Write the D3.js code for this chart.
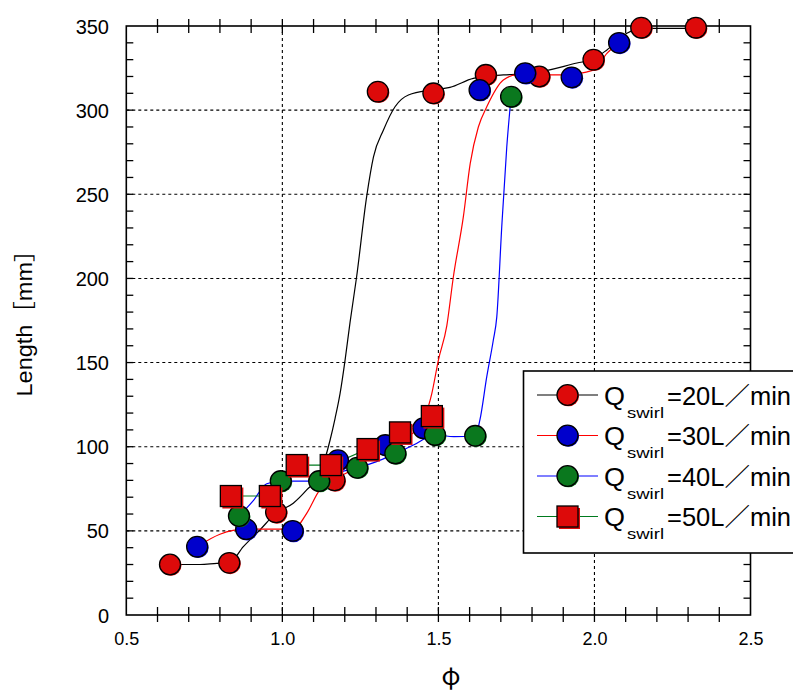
<!DOCTYPE html>
<html>
<head>
<meta charset="utf-8">
<script src="https://cdn.jsdelivr.net/npm/d3@7/dist/d3.min.js"></script>
<style>
  html, body { margin: 0; padding: 0; background: #fff; }
  svg { display: block; }
</style>
</head>
<body>
<svg id="chart" width="793" height="693"></svg>
<script>
// ---------- data ----------
const xTickValues = [0.5, 1.0, 1.5, 2.0, 2.5];
const xTickLabels = ["0.5", "1.0", "1.5", "2.0", "2.5"];
const yTickValues = [0, 50, 100, 150, 200, 250, 300, 350];
const yTickLabels = ["0", "50", "100", "150", "200", "250", "300", "350"];

const seriesNames = ["=20L／min", "=30L／min", "=40L／min", "=50L／min"];

// markers
const q20X = [0.64, 0.83, 0.98, 1.167, 1.306, 1.484, 1.652, 1.823, 1.997, 2.15, 2.325];
const q20Y = [30, 31, 61, 80, 311, 310, 321, 320, 330, 349, 349];
const q30X = [0.727, 0.884, 1.033, 1.178, 1.33, 1.452, 1.632, 1.778, 1.927, 2.079];
const q30Y = [40.6, 51, 50, 92, 101, 111, 312, 322, 319.5, 340];
const q40X = [0.861, 0.995, 1.118, 1.24, 1.362, 1.489, 1.618, 1.733];
const q40Y = [58.8, 79.6, 79.6, 87.5, 96, 107, 106.5, 308];
const q50X = [0.835, 0.96, 1.046, 1.155, 1.273, 1.377, 1.479];
const q50Y = [70.7, 70.7, 89.1, 89.1, 98.6, 108.5, 118.2];

// smoothed fit curves (traced)
const c20X = [0.64, 0.736, 0.79, 0.83, 0.875, 0.928, 0.979, 1.035, 1.078, 1.121, 1.153, 1.169, 1.185, 1.201, 1.217, 1.238, 1.27, 1.292, 1.324, 1.361, 1.404, 1.484, 1.537, 1.612, 1.708, 1.794, 1.944, 1.997, 2.04, 2.104, 2.15, 2.325];
const c20Y = [30, 30, 30.7, 31, 40.6, 50.5, 60.4, 66.4, 74.3, 84.2, 104, 116.9, 131.7, 151.5, 174, 201, 248.5, 272.3, 288.2, 302, 309, 312, 313.5, 318.9, 320.9, 321.8, 328, 330.4, 335.8, 345.7, 348.6, 348.6];
const c30X = [0.727, 0.8, 0.884, 1.0, 1.033, 1.078, 1.12, 1.163, 1.24, 1.3, 1.36, 1.431, 1.479, 1.5, 1.527, 1.548, 1.58, 1.602, 1.628, 1.655, 1.708, 1.751, 1.826, 1.9, 1.997, 2.04, 2.079];
const c30Y = [40.6, 48, 51, 51, 50.5, 60.4, 74.3, 80, 88, 96, 103, 110, 131.7, 151.5, 172, 201, 236.7, 268.4, 290, 302, 317.9, 320.9, 320.9, 321, 323.8, 333.7, 340];
const c40X = [0.861, 0.907, 0.95, 0.995, 1.05, 1.118, 1.17, 1.24, 1.3, 1.362, 1.42, 1.489, 1.55, 1.618, 1.633, 1.655, 1.676, 1.687, 1.703, 1.719, 1.733];
const c40Y = [58.8, 68, 78, 79.6, 79.6, 79.6, 84, 87.5, 91, 96, 101, 107, 106, 106.5, 115.9, 141.6, 163.4, 177, 230.7, 278, 308];
const c50X = q50X;
const c50Y = q50Y;

// ---------- layout ----------
const svg = d3.select("#chart");
const L = 126.3, R = 750.5, T = 26, B = 615;
const x = d3.scaleLinear().domain([0.5, 2.5]).range([L, R]);
const y = d3.scaleLinear().domain([0, 350]).range([B, T]);

const markerFill = ["#dd0a0a", "#0000cc", "#0a781e", "#dd0a0a"];
const lineColor = ["#000000", "#ff0000", "#0000ff", "#007a1e"];
const markerShape = ["circle", "circle", "circle", "square"];

// gridlines (dotted)
const grid = svg.append("g");
[1.0, 1.5, 2.0].forEach(v => {
  grid.append("line").attr("x1", x(v)).attr("x2", x(v)).attr("y1", T).attr("y2", B)
    .attr("stroke", "#000").attr("stroke-width", 1.1).attr("stroke-dasharray", "3,3");
});
[50, 100, 150, 200, 250, 300].forEach(v => {
  grid.append("line").attr("x1", L).attr("x2", R).attr("y1", y(v)).attr("y2", y(v))
    .attr("stroke", "#000").attr("stroke-width", 1.1).attr("stroke-dasharray", "3,3");
});

// minor ticks
const ticks = svg.append("g").attr("stroke", "#000").attr("stroke-width", 1.3);
d3.range(0.6, 2.45, 0.1).forEach(v => {
  ticks.append("line").attr("x1", x(v)).attr("x2", x(v)).attr("y1", B - 8).attr("y2", B + 7);
  ticks.append("line").attr("x1", x(v)).attr("x2", x(v)).attr("y1", T - 7).attr("y2", T + 7);
});
d3.range(10, 345, 10).forEach(v => {
  ticks.append("line").attr("x1", L).attr("x2", L + 7).attr("y1", y(v)).attr("y2", y(v));
  ticks.append("line").attr("x1", R - 7).attr("x2", R).attr("y1", y(v)).attr("y2", y(v));
});

// frame
svg.append("rect").attr("x", L).attr("y", T).attr("width", R - L).attr("height", B - T)
  .attr("fill", "none").attr("stroke", "#000").attr("stroke-width", 1.6);

// axes labels via d3 axes
const xAxis = d3.axisBottom(x).tickValues(xTickValues).tickFormat((d, i) => xTickLabels[i]).tickSize(0).tickPadding(0);
const gx = svg.append("g").attr("transform", `translate(0,${B})`).call(xAxis);
gx.select(".domain").remove();
gx.selectAll("text").attr("font-family", "Liberation Sans, Arial, sans-serif").attr("font-size", 18)
  .attr("fill", "#000").attr("dy", null).attr("y", 30);

const yAxis = d3.axisLeft(y).tickValues(yTickValues).tickFormat((d, i) => yTickLabels[i]).tickSize(0).tickPadding(0);
const gy = svg.append("g").attr("transform", `translate(109,0)`).call(yAxis);
gy.select(".domain").remove();
gy.selectAll("text").attr("font-family", "Liberation Sans, Arial, sans-serif").attr("font-size", 20)
  .attr("fill", "#000").attr("dy", "0.35em");

// axis titles
svg.append("text").attr("transform", "translate(31.5,317.5) rotate(-90)")
  .attr("text-anchor", "middle").attr("font-family", "Liberation Sans, 'Noto Sans CJK JP', sans-serif")
  .attr("font-size", 22).attr("textLength", 158).attr("lengthAdjust", "spacingAndGlyphs")
  .attr("fill", "#000").text("Length［mm］");
svg.append("text").attr("x", 451).attr("y", 685).attr("text-anchor", "middle")
  .attr("font-family", "'Noto Sans CJK JP', 'DejaVu Sans', sans-serif").attr("font-size", 25)
  .attr("fill", "#000").text("φ");

// ---------- lines ----------
const curves = [[c20X, c20Y], [c30X, c30Y], [c40X, c40Y], [c50X, c50Y]];
const lineGen = d3.line().x(d => x(d[0])).y(d => y(d[1])).curve(d3.curveMonotoneX);
const lineGenLin = d3.line().x(d => x(d[0])).y(d => y(d[1]));
const plot = svg.append("g");
curves.forEach((c, i) => {
  const pts = c[0].map((v, k) => [v, c[1][k]]);
  plot.append("path").attr("d", (i === 3 ? lineGenLin : lineGen)(pts))
    .attr("fill", "none").attr("stroke", lineColor[i]).attr("stroke-width", 1.2);
});

// ---------- markers ----------
function drawMarker(g, cx, cy, i) {
  if (markerShape[i] === "circle") {
    g.append("ellipse").attr("cx", cx + 1).attr("cy", cy + 1).attr("rx", 10.5).attr("ry", 10.3)
      .attr("fill", markerFill[i]);
    g.append("ellipse").attr("cx", cx).attr("cy", cy).attr("rx", 10.5).attr("ry", 10.3)
      .attr("fill", markerFill[i]).attr("stroke", "#000").attr("stroke-width", 1.3);
  } else {
    g.append("rect").attr("x", cx - 10 + 1.5).attr("y", cy - 10 + 1.5).attr("width", 21).attr("height", 21)
      .attr("fill", markerFill[i]);
    g.append("rect").attr("x", cx - 10.5).attr("y", cy - 10.5).attr("width", 21).attr("height", 21)
      .attr("fill", markerFill[i]).attr("stroke", "#000").attr("stroke-width", 1.3);
  }
}
const markers = [[q20X, q20Y], [q30X, q30Y], [q40X, q40Y], [q50X, q50Y]];
markers.forEach((m, i) => {
  const g = plot.append("g");
  m[0].forEach((v, k) => drawMarker(g, x(v), y(m[1][k]), i));
});

// ---------- legend ----------
const lg = svg.append("g");
lg.append("rect").attr("x", 523.5).attr("y", 371).attr("width", 300).attr("height", 182)
  .attr("fill", "#fff").attr("stroke", "#000").attr("stroke-width", 1.6);
const rowY = [395, 435.5, 476, 516.5];
const fam = "Liberation Sans, 'Noto Sans CJK JP', sans-serif";
seriesNames.forEach((name, i) => {
  const yy = rowY[i];
  lg.append("line").attr("x1", 537).attr("x2", 598).attr("y1", yy).attr("y2", yy)
    .attr("stroke", lineColor[i]).attr("stroke-width", 1.2);
  drawMarker(lg, 567.5, yy, i);
  lg.append("text").attr("x", 604).attr("y", yy + 9.5).attr("font-family", fam)
    .attr("font-size", 25).attr("textLength", 21).attr("lengthAdjust", "spacingAndGlyphs")
    .attr("fill", "#000").text("Q");
  lg.append("text").attr("x", 627).attr("y", yy + 22.5).attr("font-family", fam)
    .attr("font-size", 15).attr("textLength", 37).attr("lengthAdjust", "spacingAndGlyphs")
    .attr("fill", "#000").text("swirl");
  lg.append("text").attr("x", 667).attr("y", yy + 9.5).attr("font-family", fam)
    .attr("font-size", 25).attr("textLength", 124).attr("lengthAdjust", "spacingAndGlyphs")
    .attr("fill", "#000").text(name);
});
</script>
</body>
</html>
